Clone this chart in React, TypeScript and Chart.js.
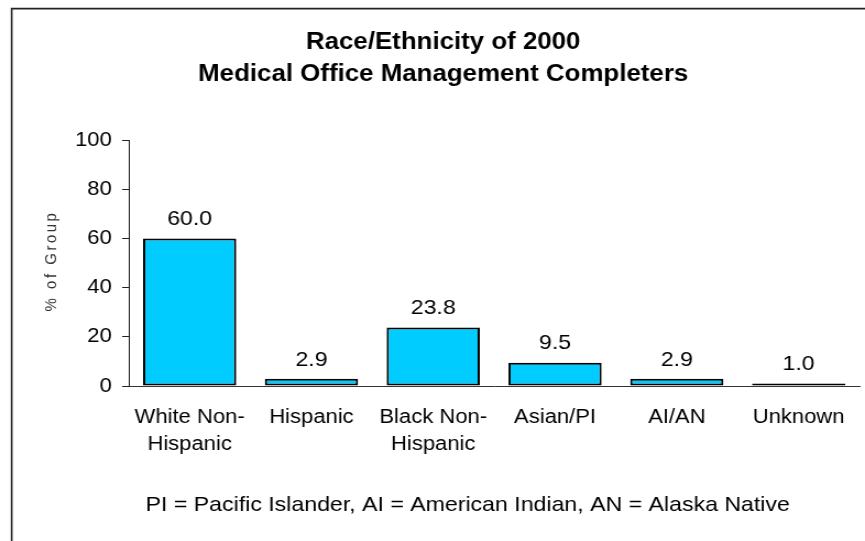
import React, { useEffect, useRef } from 'react';
import { Chart, registerables } from 'chart.js';

Chart.register(...registerables);

const categories: (string | string[])[] = [
  ['White Non-', 'Hispanic'],
  'Hispanic',
  ['Black Non-', 'Hispanic'],
  'Asian/PI',
  'AI/AN',
  'Unknown',
];
const values = [60.0, 2.9, 23.8, 9.5, 2.9, 1.0];
const yMin = 0;
const yMax = 100;
const yStep = 20;
const titleLines = ['Race/Ethnicity of 2000', 'Medical Office Management Completers'];
const yTitle = '% of Group';
const footnote = 'PI = Pacific Islander, AI = American Indian, AN = Alaska Native';

const FONT = '"Liberation Sans", Arial, sans-serif';
const W = 786; // internal drawing width (image is horizontally stretched to 865)
const H = 541;

const decorPlugin = {
  id: 'decor',
  beforeDraw(chart: any) {
    const ctx = chart.ctx as CanvasRenderingContext2D;
    ctx.save();
    ctx.fillStyle = '#ffffff';
    ctx.fillRect(0, 0, W, H);
    ctx.restore();
  },
  afterDraw(chart: any) {
    const ctx = chart.ctx as CanvasRenderingContext2D;
    ctx.save();
    // frame
    ctx.strokeStyle = '#222';
    ctx.lineWidth = 1.6;
    ctx.beginPath();
    ctx.moveTo(10.6, H);
    ctx.lineTo(10.6, 8.6);
    ctx.lineTo(W, 8.6);
    ctx.stroke();
    // title
    ctx.fillStyle = '#000';
    ctx.textAlign = 'center';
    ctx.textBaseline = 'alphabetic';
    ctx.font = `bold 23.5px ${FONT}`;
    ctx.fillText(titleLines[0], 402.7, 49);
    ctx.fillText(titleLines[1], 402.7, 81);
    // footnote
    ctx.font = `21px ${FONT}`;
    ctx.fillText(footnote, 425, 510.5);
    // y title
    ctx.save();
    ctx.translate(46.5, 261);
    ctx.rotate(-Math.PI / 2);
    ctx.fillStyle = '#333';
    ctx.font = `15px ${FONT}`;
    (ctx as any).letterSpacing = '2.5px';
    ctx.textAlign = 'center';
    ctx.textBaseline = 'middle';
    ctx.fillText(yTitle, 0, 0);
    ctx.restore();
    ctx.restore();
  },
  afterDatasetsDraw(chart: any) {
    const ctx = chart.ctx as CanvasRenderingContext2D;
    const meta = chart.getDatasetMeta(0);
    ctx.save();
    ctx.fillStyle = '#000';
    ctx.font = `21px ${FONT}`;
    ctx.textAlign = 'center';
    ctx.textBaseline = 'middle';
    meta.data.forEach((bar: any, i: number) => {
      ctx.fillText(values[i].toFixed(1), bar.x, bar.y - 19);
    });
    ctx.restore();
  },
};

export default function App() {
  const ref = useRef<HTMLCanvasElement | null>(null);
  useEffect(() => {
    document.body.style.margin = '0';
    const canvas = ref.current!;
    const chart = new Chart(canvas, {
      type: 'bar',
      data: {
        labels: categories,
        datasets: [
          {
            data: values,
            backgroundColor: '#00CCFF',
            borderColor: '#000000',
            borderWidth: 2,
            borderSkipped: false,
            categoryPercentage: 1,
            barPercentage: 0.765,
          },
        ],
      },
      options: {
        responsive: false,
        animation: false,
        devicePixelRatio: 1,
        layout: { padding: { top: 140, right: 5, left: 0, bottom: 0 } },
        plugins: {
          legend: { display: false },
          title: { display: false },
          tooltip: { enabled: false },
        },
        scales: {
          x: {
            afterFit: (s: any) => {
              s.height = 155;
            },
            grid: { display: false, drawTicks: false },
            border: { display: true, color: '#333', width: 1 },
            ticks: {
              color: '#000',
              font: { family: FONT, size: 20, lineHeight: 1.37 },
              padding: 17.3,
              maxRotation: 0,
              autoSkip: false,
            },
          },
          y: {
            min: yMin,
            max: yMax,
            afterFit: (s: any) => {
              s.width = 117;
            },
            grid: {
              drawOnChartArea: false,
              drawTicks: true,
              tickLength: 6,
              color: '#222',
              lineWidth: 1,
            },
            border: { display: true, color: '#222', width: 1 },
            ticks: {
              stepSize: yStep,
              color: '#000',
              font: { family: FONT, size: 20 },
              padding: 9.5,
            },
          },
        },
      },
      plugins: [decorPlugin],
    });
    return () => chart.destroy();
  }, []);
  return (
    <div style={{ position: 'absolute', left: 0, top: 0, width: 865, height: 541 }}>
      <canvas ref={ref} width={W} height={H} style={{ width: '865px', height: '541px', display: 'block' }} />
    </div>
  );
}
